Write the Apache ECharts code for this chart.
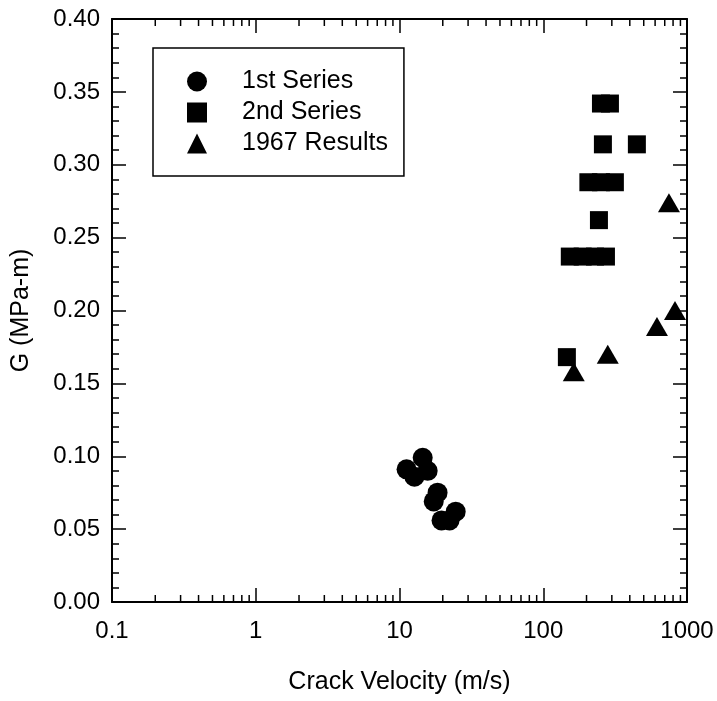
<!DOCTYPE html>
<html><head><meta charset="utf-8">
<script src="https://cdn.jsdelivr.net/npm/echarts@6/dist/echarts.min.js"></script>
<style>html,body{margin:0;padding:0;background:#fff}#c{width:717px;height:701px}</style>
</head><body><div id="c"></div>
<script>
// Data
const series1X = [11.2, 12.7, 14.5, 15.7, 18.4, 17.3, 19.6, 24.6, 22.3];
const series1Y = [0.091, 0.086, 0.099, 0.090, 0.075, 0.069, 0.056, 0.062, 0.056];
const series2X = [252, 291, 260, 448, 206, 252, 315, 244, 153, 188, 229, 273, 146];
const series2Y = [0.342, 0.342, 0.314, 0.314, 0.288, 0.288, 0.288, 0.262, 0.237, 0.237, 0.237, 0.237, 0.168];
const results1967X = [749, 163, 281, 618, 825];
const results1967Y = [0.274, 0.158, 0.170, 0.189, 0.200];
const seriesNames = ['1st Series', '2nd Series', '1967 Results'];
const xTickLabels = ['0.1', '1', '10', '100', '1000'];
const xMinorTicks = [0.2,0.3,0.4,0.5,0.6,0.7,0.8,0.9, 2,3,4,5,6,7,8,9, 20,30,40,50,60,70,80,90, 200,300,400,500,600,700,800,900];

const pair = (xs, ys) => xs.map((x, i) => [x, ys[i]]);
const FONT = 'Liberation Sans';
const chart = echarts.init(document.getElementById('c'), null, {renderer: 'canvas'});

const xLabelFmt = v => {
  const lg = Math.round(Math.log10(v));
  return xTickLabels[lg + 1] || '';
};

const commonX = {
  type: 'log', logBase: 10, min: 0.1, max: 1000,
  axisLine: {show: true, onZero: false, lineStyle: {color: '#000', width: 2}},
  axisTick: {show: true, inside: true, length: 14, lineStyle: {color: '#000', width: 1.5}},
  splitLine: {show: false}
};
const commonY = {
  type: 'value', min: 0, max: 0.4, interval: 0.05,
  axisLine: {show: true, onZero: false, lineStyle: {color: '#000', width: 2}},
  axisTick: {show: true, inside: true, length: 14, lineStyle: {color: '#000', width: 1.5}},
  minorTick: {show: true, splitNumber: 5, length: 7, lineStyle: {color: '#000', width: 1.5}},
  splitLine: {show: false}
};

const option = {
  backgroundColor: '#fff',
  animation: false,
  textStyle: {fontFamily: FONT, color: '#000'},
  grid: {left: 112, right: 30, top: 19, bottom: 99, containLabel: false},
  xAxis: [
    Object.assign({}, commonX, {
      position: 'bottom',
      name: 'Crack Velocity (m/s)', nameLocation: 'middle', nameGap: 68,
      nameTextStyle: {fontFamily: FONT, fontSize: 25, color: '#000'},
      axisLabel: {show: true, margin: 17, fontFamily: FONT, fontSize: 24, color: '#000', formatter: xLabelFmt}
    }),
    Object.assign({}, commonX, {position: 'top', axisLabel: {show: false}})
  ],
  yAxis: [
    Object.assign({}, commonY, {
      position: 'left',
      name: 'G (MPa-m)', nameLocation: 'middle', nameGap: 78, nameRotate: 90,
      nameTextStyle: {fontFamily: FONT, fontSize: 25, color: '#000'},
      axisLabel: {show: true, margin: 12, fontFamily: FONT, fontSize: 24, color: '#000', formatter: v => v.toFixed(2)}
    }),
    Object.assign({}, commonY, {position: 'right', axisLabel: {show: false}})
  ],
  legend: {
    show: true, orient: 'vertical', left: 153, top: 48,
    data: seriesNames,
    itemWidth: 20, itemHeight: 20, itemGap: 6,
    padding: [21, 16, 20, 34],
    borderColor: '#000', borderWidth: 1.5, borderRadius: 0,
    backgroundColor: '#fff',
    itemStyle: {opacity: 1},
    textStyle: {fontFamily: FONT, fontSize: 25, color: '#000', padding: [0, 0, 0, 30]},
    selectedMode: false
  },
  series: [
    {
      type: 'custom', name: 'minorTicksX', silent: true, z: 1,
      data: xMinorTicks.map(v => [v, 0]),
      renderItem: (params, api) => {
        const x = api.value(0);
        const b = api.coord([x, 0]);
        const t = api.coord([x, 0.4]);
        const L = 7;
        return {type: 'group', children: [
          {type: 'line', shape: {x1: b[0], y1: b[1], x2: b[0], y2: b[1] - L}, style: {stroke: '#000', lineWidth: 1.5}},
          {type: 'line', shape: {x1: t[0], y1: t[1], x2: t[0], y2: t[1] + L}, style: {stroke: '#000', lineWidth: 1.5}}
        ]};
      }
    },
    {type: 'scatter', name: seriesNames[0], symbol: 'circle', symbolSize: 20,
     itemStyle: {color: '#000', opacity: 1}, data: pair(series1X, series1Y)},
    {type: 'scatter', name: seriesNames[1], symbol: 'rect', symbolSize: 18,
     itemStyle: {color: '#000', opacity: 1}, data: pair(series2X, series2Y)},
    {type: 'scatter', name: seriesNames[2], symbol: 'triangle', symbolSize: [22, 19],
     itemStyle: {color: '#000', opacity: 1}, data: pair(results1967X, results1967Y)}
  ]
};
chart.setOption(option);
</script>
</body></html>
